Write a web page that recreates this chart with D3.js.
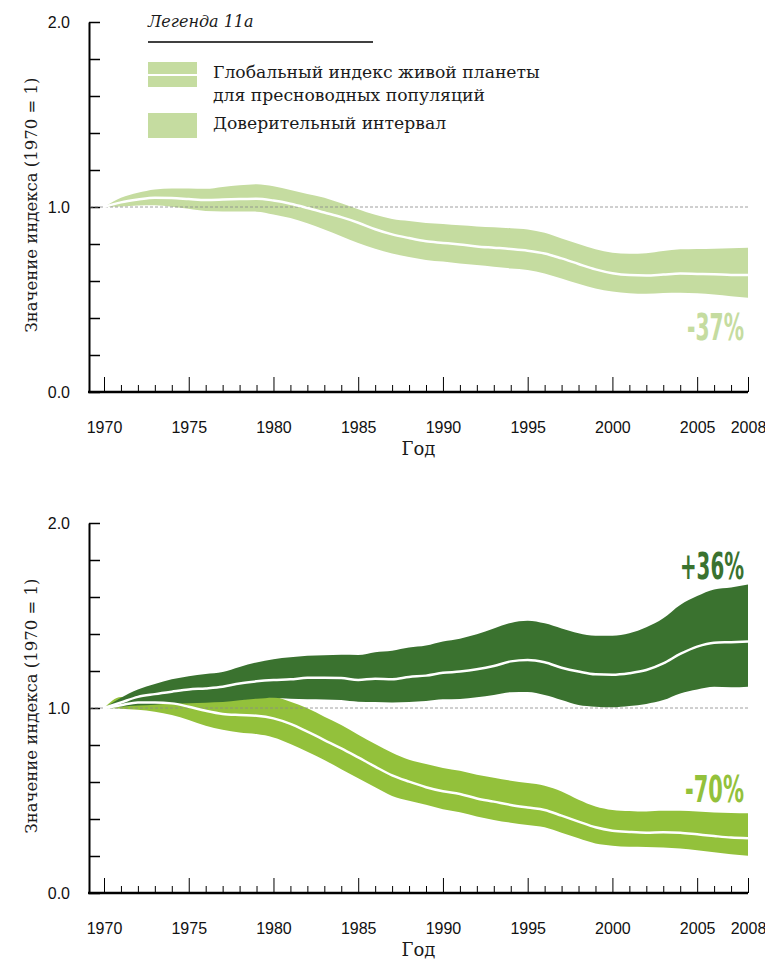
<!DOCTYPE html>
<html>
<head>
<meta charset="utf-8">
<script src="https://cdn.jsdelivr.net/npm/d3@7"></script>
<style>
  body { margin: 0; background: #fff; }
  .tick text { font-family: "Liberation Sans", Arial, sans-serif; font-size: 16px; fill: #111; }
  .serif { font-family: "DejaVu Serif", serif; fill: #1a1a1a; }
  .pct { font-family: "DejaVu Sans Condensed", "DejaVu Sans", sans-serif; font-weight: bold; }
</style>
</head>
<body>
<div id="chart"></div>
<script>
const years = [1970, 1971, 1972, 1973, 1974, 1975, 1976, 1977, 1978, 1979,
  1980, 1981, 1982, 1983, 1984, 1985, 1986, 1987, 1988, 1989,
  1990, 1991, 1992, 1993, 1994, 1995, 1996, 1997, 1998, 1999,
  2000, 2001, 2002, 2003, 2004, 2005, 2006, 2007, 2008];

const majorYears = [1970, 1975, 1980, 1985, 1990, 1995, 2000, 2005, 2008];
const yTicks = [0, 0.2, 0.4, 0.6, 0.8, 1, 1.2, 1.4, 1.6, 1.8, 2];

// Top: global freshwater index
const topMid = [1.000, 1.025, 1.040, 1.050, 1.048, 1.043, 1.038, 1.040, 1.043, 1.045,
  1.035, 1.018, 0.995, 0.970, 0.945, 0.915, 0.880, 0.852, 0.832, 0.815,
  0.806, 0.797, 0.787, 0.780, 0.773, 0.764, 0.749, 0.722, 0.692, 0.663,
  0.642, 0.632, 0.630, 0.635, 0.640, 0.638, 0.636, 0.633, 0.632];
const topHi = [1.000, 1.050, 1.077, 1.095, 1.100, 1.100, 1.098, 1.108, 1.117, 1.123,
  1.112, 1.092, 1.070, 1.050, 1.020, 0.988, 0.958, 0.935, 0.924, 0.914,
  0.908, 0.901, 0.895, 0.890, 0.885, 0.879, 0.861, 0.830, 0.800, 0.771,
  0.753, 0.747, 0.750, 0.762, 0.771, 0.773, 0.775, 0.777, 0.780];
const topLo = [1.000, 1.003, 1.008, 1.010, 1.002, 0.990, 0.978, 0.976, 0.976, 0.975,
  0.960, 0.940, 0.912, 0.878, 0.842, 0.806, 0.774, 0.748, 0.730, 0.714,
  0.705, 0.695, 0.686, 0.677, 0.668, 0.660, 0.641, 0.614, 0.585, 0.560,
  0.543, 0.534, 0.531, 0.535, 0.537, 0.534, 0.527, 0.518, 0.510];

// Bottom: dark series (+36%)
const darkMid = [1.000, 1.030, 1.060, 1.075, 1.088, 1.100, 1.106, 1.115, 1.133, 1.144,
  1.151, 1.155, 1.163, 1.164, 1.162, 1.152, 1.158, 1.156, 1.168, 1.175,
  1.190, 1.197, 1.209, 1.227, 1.252, 1.260, 1.247, 1.218, 1.197, 1.182,
  1.180, 1.188, 1.205, 1.241, 1.292, 1.332, 1.353, 1.356, 1.360];
const darkHi = [1.000, 1.055, 1.100, 1.130, 1.155, 1.172, 1.184, 1.195, 1.222, 1.246,
  1.264, 1.274, 1.283, 1.285, 1.288, 1.287, 1.302, 1.310, 1.327, 1.338,
  1.360, 1.375, 1.398, 1.430, 1.460, 1.472, 1.458, 1.430, 1.404, 1.391,
  1.391, 1.404, 1.436, 1.485, 1.557, 1.605, 1.641, 1.652, 1.668];
const darkLo = [1.000, 1.007, 1.013, 1.017, 1.024, 1.026, 1.029, 1.032, 1.042, 1.050,
  1.056, 1.050, 1.047, 1.046, 1.043, 1.034, 1.032, 1.030, 1.033, 1.038,
  1.047, 1.049, 1.058, 1.070, 1.085, 1.086, 1.070, 1.043, 1.016, 1.007,
  1.004, 1.011, 1.022, 1.043, 1.079, 1.100, 1.115, 1.112, 1.115];

// Bottom: light series (-70%)
const lightMid = [1.000, 1.015, 1.030, 1.030, 1.025, 1.007, 0.985, 0.968, 0.962, 0.958,
  0.944, 0.914, 0.872, 0.827, 0.782, 0.733, 0.683, 0.636, 0.602, 0.572,
  0.550, 0.535, 0.511, 0.494, 0.476, 0.462, 0.449, 0.418, 0.386, 0.355,
  0.337, 0.330, 0.326, 0.329, 0.326, 0.317, 0.308, 0.300, 0.296];
const lightHi = [1.000, 1.060, 1.045, 1.035, 1.032, 1.033, 1.036, 1.040, 1.045, 1.054,
  1.060, 1.034, 0.998, 0.953, 0.908, 0.856, 0.805, 0.758, 0.720, 0.697,
  0.676, 0.661, 0.639, 0.623, 0.607, 0.594, 0.580, 0.549, 0.504, 0.468,
  0.449, 0.443, 0.440, 0.444, 0.444, 0.440, 0.435, 0.432, 0.431];
const lightLo = [1.000, 0.996, 0.990, 0.980, 0.962, 0.935, 0.904, 0.882, 0.867, 0.859,
  0.841, 0.806, 0.764, 0.719, 0.669, 0.620, 0.571, 0.525, 0.499, 0.477,
  0.453, 0.436, 0.413, 0.395, 0.380, 0.368, 0.355, 0.326, 0.296, 0.268,
  0.256, 0.250, 0.249, 0.246, 0.240, 0.231, 0.220, 0.209, 0.202];

const pale = "#c5dca0";
const dark = "#3a722f";
const light = "#93c13b";

const svg = d3.select("#chart").append("svg")
  .attr("width", 765)
  .attr("height", 960);

const x = d3.scaleLinear().domain([1970, 2008]).range([104, 748]);
const axisX = 89;

const drawPanel = (top, bands, labels) => {
  const y = d3.scaleLinear().domain([0, 2]).range([top + 370, top]);
  const g = svg.append("g");

  // y axis, ticks pointing into the plot
  const yAxis = g.append("g")
    .attr("transform", `translate(${axisX},0)`)
    .call(d3.axisLeft(y)
      .tickValues(yTicks)
      .tickSize(-11)
      .tickSizeOuter(0)
      .tickPadding(19)
      .tickFormat((d) => (Math.abs(d - Math.round(d)) < 1e-6 ? d3.format(".1f")(d) : "")));
  yAxis.select(".domain").attr("stroke", "#000").attr("stroke-width", 2);
  yAxis.selectAll(".tick line").attr("stroke", "#000").attr("stroke-width", 1.5);

  // x axis: minor yearly ticks + major ticks
  const minor = years.filter((d) => !majorYears.includes(d));
  const xMinor = g.append("g")
    .attr("transform", `translate(0,${y(0)})`)
    .call(d3.axisBottom(x).tickValues(minor).tickSize(-7).tickSizeOuter(0).tickFormat(""));
  xMinor.select(".domain").remove();
  xMinor.selectAll(".tick line").attr("stroke", "#000").attr("stroke-width", 1);

  const xMajor = g.append("g")
    .attr("transform", `translate(0,${y(0)})`)
    .call(d3.axisBottom(x).tickValues(majorYears).tickSize(-15).tickSizeOuter(0)
      .tickPadding(30).tickFormat(d3.format("d")));
  xMajor.select(".domain").remove();
  xMajor.selectAll(".tick line").attr("stroke", "#000").attr("stroke-width", 1);

  g.append("line")
    .attr("x1", axisX - 1).attr("x2", x(2008))
    .attr("y1", y(0)).attr("y2", y(0))
    .attr("stroke", "#000").attr("stroke-width", 2.5);

  g.append("text")
    .attr("class", "serif")
    .attr("x", (axisX + x(2008)) / 2)
    .attr("y", y(0) + 63)
    .attr("text-anchor", "middle")
    .style("font-size", "18px")
    .text("Год");

  g.append("text")
    .attr("class", "serif")
    .attr("transform", `translate(37,${y(1) - 2}) rotate(-90)`)
    .attr("text-anchor", "middle")
    .style("font-size", "16.5px")
    .text("Значение индекса (1970 = 1)");

  // bands
  bands.forEach((b) => {
    const rows = years.map((yr, i) => ({ yr, lo: b.lo[i], hi: b.hi[i] }));
    g.append("path")
      .datum(rows)
      .attr("fill", b.color)
      .attr("d", d3.area().curve(d3.curveMonotoneX)
        .x((d) => x(d.yr)).y0((d) => y(d.lo)).y1((d) => y(d.hi)));
  });

  // reference line at 1.0
  g.append("line")
    .attr("x1", axisX + 1).attr("x2", x(2008))
    .attr("y1", y(1)).attr("y2", y(1))
    .attr("stroke", "#8a8a8a").attr("stroke-width", 1)
    .attr("stroke-dasharray", "3,2")
    .attr("opacity", 0.8);

  bands.forEach((b) => {
    const rows = years.map((yr, i) => ({ yr, v: b.mid[i] }));
    g.append("path")
      .datum(rows)
      .attr("fill", "none")
      .attr("stroke", "#fff")
      .attr("stroke-width", 2.5)
      .attr("d", d3.line().curve(d3.curveMonotoneX).x((d) => x(d.yr)).y((d) => y(d.v)));
  });

  // condensed percentage labels: squeeze horizontally to the measured width
  labels.forEach((l) => {
    const t = g.append("text")
      .attr("class", "pct")
      .attr("text-anchor", "end")
      .style("font-size", "38px")
      .style("fill", l.color)
      .text(l.text);
    const natural = t.node().getComputedTextLength();
    t.attr("transform", `translate(744,${y(l.at)}) scale(${l.w / natural},1)`);
  });

  return y;
};

drawPanel(22,
  [{ lo: topLo, hi: topHi, mid: topMid, color: pale }],
  [{ text: "-37%", at: 0.28, w: 57, color: pale }]);

drawPanel(523,
  [
    { lo: lightLo, hi: lightHi, mid: lightMid, color: light },
    { lo: darkLo, hi: darkHi, mid: darkMid, color: dark },
  ],
  [
    { text: "+36%", at: 1.7, w: 64, color: dark },
    { text: "-70%", at: 0.49, w: 59, color: light },
  ]);

// legend
const legend = svg.append("g");
legend.append("text")
  .attr("class", "serif")
  .attr("x", 148).attr("y", 27)
  .style("font-size", "16px")
  .style("font-style", "italic")
  .text("Легенда 11а");
legend.append("line")
  .attr("x1", 148).attr("x2", 373)
  .attr("y1", 42).attr("y2", 42)
  .attr("stroke", "#000").attr("stroke-width", 1.5);

legend.append("rect")
  .attr("x", 148).attr("y", 62).attr("width", 49).attr("height", 25)
  .attr("fill", pale);
legend.append("line")
  .attr("x1", 148).attr("x2", 197).attr("y1", 75).attr("y2", 75)
  .attr("stroke", "#fff").attr("stroke-width", 2);
legend.append("rect")
  .attr("x", 148).attr("y", 113).attr("width", 49).attr("height", 25)
  .attr("fill", pale);

const legendLines = [
  { text: "Глобальный индекс живой планеты", y: 78 },
  { text: "для пресноводных популяций", y: 101 },
  { text: "Доверительный интервал", y: 129 },
];
legend.selectAll(".legend-text")
  .data(legendLines)
  .enter()
  .append("text")
  .attr("class", "serif legend-text")
  .attr("x", 213)
  .attr("y", (d) => d.y)
  .style("font-size", "17.2px")
  .text((d) => d.text);
</script>
</body>
</html>
